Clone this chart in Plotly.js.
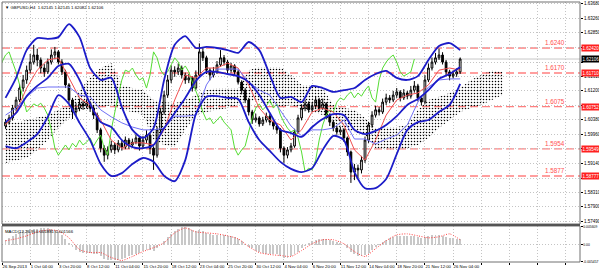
<!DOCTYPE html>
<html><head><meta charset="utf-8">
<script src="https://cdn.plot.ly/plotly-3.0.1.min.js"></script>
<style>html,body{margin:0;padding:0;background:#fff;}#chart{width:599px;height:272px;}</style>
</head><body><div id="chart"></div>
<script>
// ---- candle data (each candle = 2 H4 bars) ----
const candleOpen=[1.6020,1.6031,1.6043,1.6071,1.6094,1.6128,1.6151,1.6179,1.6202,1.6222,
1.6208,1.6185,1.6174,1.6202,1.6222,1.6231,1.6202,1.6174,1.6137,1.6094,
1.6060,1.6071,1.6083,1.6077,1.6085,1.6071,1.6051,1.6009,1.5957,1.5937,
1.5952,1.5966,1.5952,1.5971,1.5960,1.5980,1.5966,1.5974,1.5986,1.5963,
1.5980,1.5994,1.5957,1.5937,1.6009,1.6060,1.6108,1.6151,1.6179,1.6174,
1.6185,1.6165,1.6151,1.6157,1.6128,1.6165,1.6231,1.6214,1.6179,1.6165,
1.6174,1.6194,1.6214,1.6202,1.6179,1.6191,1.6174,1.6145,1.6122,1.6094,
1.6060,1.6037,1.6043,1.6026,1.6037,1.6048,1.6031,1.6020,1.6009,1.5957,
1.5937,1.5952,1.5963,1.6003,1.6043,1.6071,1.6083,1.6066,1.6077,1.6094,
1.6071,1.6083,1.6051,1.6031,1.6014,1.6003,1.6009,1.5986,1.5946,1.5889,
1.5900,1.5895,1.5923,1.5980,1.6023,1.6051,1.6066,1.6060,1.6088,1.6100,
1.6094,1.6108,1.6117,1.6100,1.6114,1.6105,1.6122,1.6134,1.6100,1.6088,
1.6151,1.6185,1.6202,1.6214,1.6222,1.6202,1.6174,1.6162,1.6168,1.6174];
const candleHigh=[1.6040,1.6052,1.6080,1.6103,1.6140,1.6165,1.6192,1.6225,1.6251,1.6240,
1.6215,1.6196,1.6212,1.6238,1.6245,1.6236,1.6210,1.6180,1.6142,1.6100,
1.6085,1.6098,1.6092,1.6096,1.6090,1.6078,1.6058,1.6015,1.5965,1.5962,
1.5978,1.5972,1.5980,1.5978,1.5990,1.5986,1.5984,1.5996,1.5990,1.5992,
1.6008,1.6000,1.5962,1.6018,1.6072,1.6120,1.6165,1.6192,1.6190,1.6198,
1.6192,1.6172,1.6168,1.6162,1.6178,1.6255,1.6245,1.6220,1.6185,1.6188,
1.6205,1.6236,1.6222,1.6208,1.6200,1.6196,1.6180,1.6150,1.6128,1.6100,
1.6066,1.6055,1.6048,1.6046,1.6058,1.6054,1.6036,1.6025,1.6014,1.5962,
1.5960,1.5972,1.6012,1.6052,1.6082,1.6095,1.6090,1.6088,1.6105,1.6100,
1.6098,1.6088,1.6056,1.6036,1.6020,1.6018,1.6014,1.5990,1.5950,1.5912,
1.5910,1.5935,1.5990,1.6032,1.6062,1.6078,1.6074,1.6098,1.6112,1.6108,
1.6120,1.6128,1.6122,1.6125,1.6120,1.6134,1.6148,1.6140,1.6105,1.6165,
1.6198,1.6215,1.6228,1.6240,1.6230,1.6208,1.6180,1.6178,1.6184,1.6215];
const candleLow=[1.6012,1.6024,1.6035,1.6062,1.6088,1.6118,1.6140,1.6170,1.6195,1.6190,
1.6170,1.6160,1.6168,1.6195,1.6210,1.6195,1.6165,1.6128,1.6085,1.6040,
1.6048,1.6062,1.6066,1.6070,1.6060,1.6040,1.6000,1.5945,1.5918,1.5925,
1.5944,1.5940,1.5945,1.5950,1.5954,1.5955,1.5958,1.5968,1.5950,1.5955,
1.5972,1.5940,1.5895,1.5930,1.6000,1.6052,1.6100,1.6142,1.6160,1.6165,
1.6155,1.6140,1.6142,1.6118,1.6122,1.6160,1.6205,1.6168,1.6150,1.6158,
1.6168,1.6188,1.6192,1.6170,1.6172,1.6165,1.6138,1.6110,1.6085,1.6050,
1.6026,1.6030,1.6018,1.6020,1.6030,1.6022,1.6010,1.5998,1.5945,1.5915,
1.5928,1.5945,1.5958,1.5998,1.6036,1.6062,1.6058,1.6060,1.6070,1.6062,
1.6066,1.6040,1.6020,1.6005,1.5995,1.5994,1.5975,1.5935,1.5858,1.5866,
1.5872,1.5885,1.5915,1.5972,1.6015,1.6044,1.6050,1.6054,1.6080,1.6085,
1.6088,1.6100,1.6090,1.6094,1.6096,1.6098,1.6115,1.6090,1.6078,1.6082,
1.6145,1.6178,1.6195,1.6208,1.6195,1.6165,1.6150,1.6155,1.6160,1.6168];
const candleClose=[1.6031,1.6043,1.6071,1.6094,1.6128,1.6151,1.6179,1.6202,1.6222,1.6208,
1.6185,1.6174,1.6202,1.6222,1.6231,1.6202,1.6174,1.6137,1.6094,1.6060,
1.6071,1.6083,1.6077,1.6085,1.6071,1.6051,1.6009,1.5957,1.5937,1.5952,
1.5966,1.5952,1.5971,1.5960,1.5980,1.5966,1.5974,1.5986,1.5963,1.5980,
1.5994,1.5957,1.5937,1.6009,1.6060,1.6108,1.6151,1.6179,1.6174,1.6185,
1.6165,1.6151,1.6157,1.6128,1.6165,1.6231,1.6214,1.6179,1.6165,1.6174,
1.6194,1.6214,1.6202,1.6179,1.6191,1.6174,1.6145,1.6122,1.6094,1.6060,
1.6037,1.6043,1.6026,1.6037,1.6048,1.6031,1.6020,1.6009,1.5957,1.5937,
1.5952,1.5963,1.6003,1.6043,1.6071,1.6083,1.6066,1.6077,1.6094,1.6071,
1.6083,1.6051,1.6031,1.6014,1.6003,1.6009,1.5986,1.5946,1.5889,1.5900,
1.5895,1.5923,1.5980,1.6023,1.6051,1.6066,1.6060,1.6088,1.6100,1.6094,
1.6108,1.6117,1.6100,1.6114,1.6105,1.6122,1.6134,1.6100,1.6088,1.6151,
1.6185,1.6202,1.6214,1.6222,1.6202,1.6174,1.6162,1.6168,1.6174,1.62106];

// ---- indicator samples (every 3 candles) ----
const upperBand=[1.6100,1.6157,1.6236,1.6270,1.6268,1.6273,1.6310,1.6273,1.6185,1.6151,1.6157,1.6074,1.6009,1.5986,1.6014,1.6151,1.6251,1.6276,1.6242,1.6245,1.6242,1.6236,1.6228,1.6259,1.6236,1.6165,1.6100,1.6103,1.6088,1.6134,1.6128,1.6117,1.6122,1.6128,1.6151,1.6168,1.6177,1.6157,1.6151,1.6162,1.6208,1.6248,1.6256,1.6236];
const middleBand=[1.6031,1.6057,1.6105,1.6134,1.6157,1.6191,1.6197,1.6151,1.6083,1.6031,1.6017,1.5980,1.5960,1.5957,1.5966,1.6014,1.6057,1.6100,1.6148,1.6174,1.6174,1.6168,1.6162,1.6145,1.6108,1.6057,1.6009,1.6000,1.5989,1.6017,1.6040,1.6054,1.6051,1.6009,1.5997,1.6006,1.6023,1.6048,1.6080,1.6097,1.6122,1.6154,1.6168,1.6188];
const lowerBand=[1.5963,1.5957,1.5974,1.5997,1.6046,1.6108,1.6083,1.6029,1.5980,1.5912,1.5878,1.5886,1.5912,1.5929,1.5918,1.5878,1.5863,1.5923,1.6054,1.6103,1.6105,1.6100,1.6097,1.6031,1.5980,1.5949,1.5918,1.5898,1.5889,1.5900,1.5952,1.5992,1.5980,1.5889,1.5843,1.5843,1.5869,1.5940,1.6009,1.6031,1.6037,1.6060,1.6080,1.6140];
const tenkanSen=[1.6023,1.6060,1.6128,1.6179,1.6208,1.6214,1.6157,1.6100,1.6080,1.6037,1.5980,1.5957,1.5972,1.5972,1.5966,1.6009,1.6094,1.6165,1.6157,1.6185,1.6185,1.6199,1.6185,1.6137,1.6071,1.6037,1.6023,1.5980,1.6009,1.6060,1.6071,1.6060,1.6023,1.5952,1.5923,1.5980,1.6051,1.6094,1.6108,1.6114,1.6137,1.6179,1.6185,1.6179];
const kijunSen=[1.6051,1.6071,1.6103,1.6128,1.6131,1.6131,1.6131,1.6108,1.6103,1.6066,1.6046,1.6029,1.6017,1.6009,1.6009,1.6014,1.6048,1.6048,1.6051,1.6137,1.6182,1.6182,1.6182,1.6145,1.6122,1.6108,1.6063,1.6020,1.5992,1.6009,1.6009,1.6014,1.6037,1.5983,1.5983,1.5969,1.5983,1.5994,1.6023,1.6088,1.6131,1.6151,1.6154,1.6154];
const cloudTop=[1.6029,1.6031,1.6037,1.6043,1.6051,1.6066,1.6080,1.6122,1.6157,1.6185,1.6199,1.6137,1.6128,1.6122,1.6094,1.6088,1.6085,1.6094,1.6108,1.6122,1.6128,1.6128,1.6128,1.6179,1.6188,1.6188,1.6188,1.6165,1.6137,1.6137,1.6128,1.6080,1.6071,1.6066,1.6043,1.6014,1.6017,1.6017,1.6023,1.6066,1.6094,1.6103,1.6114,1.6128,1.6151,1.6165,1.6179,1.6174];
const cloudBottom=[1.5915,1.5923,1.5929,1.5952,1.5980,1.6014,1.6043,1.6066,1.6066,1.6071,1.6080,1.6066,1.6060,1.6051,1.5980,1.5966,1.5960,1.6009,1.6051,1.6060,1.6066,1.6071,1.6080,1.6094,1.6088,1.6080,1.6074,1.6080,1.6066,1.6060,1.6051,1.6023,1.6009,1.6003,1.5994,1.5957,1.5952,1.5952,1.5957,1.5966,1.5986,1.6014,1.6037,1.6060,1.6071,1.6080,1.6094,1.6108];
const macdHist=[0.0016,0.0022,0.0028,0.0034,0.0041,0.0044,0.0047,0.0050,0.0050,0.0050,
0.0053,0.0053,0.0053,0.0050,0.0047,0.0041,0.0031,0.0019,0.0006,-0.0006,
-0.0016,-0.0022,-0.0025,-0.0025,-0.0025,-0.0028,-0.0031,-0.0037,-0.0044,-0.0047,
-0.0050,-0.0050,-0.0047,-0.0044,-0.0041,-0.0037,-0.0034,-0.0028,-0.0025,-0.0019,
-0.0016,-0.0016,-0.0019,-0.0009,0.0000,0.0012,0.0025,0.0034,0.0044,0.0050,
0.0056,0.0056,0.0053,0.0047,0.0044,0.0047,0.0044,0.0037,0.0034,0.0031,
0.0031,0.0031,0.0031,0.0028,0.0028,0.0025,0.0019,0.0012,0.0003,-0.0006,
-0.0012,-0.0019,-0.0022,-0.0025,-0.0028,-0.0028,-0.0031,-0.0031,-0.0037,-0.0041,
-0.0041,-0.0037,-0.0031,-0.0022,-0.0012,-0.0003,0.0006,0.0012,0.0016,0.0019,
0.0019,0.0019,0.0016,0.0012,0.0009,0.0006,0.0000,-0.0009,-0.0022,-0.0031,
-0.0037,-0.0037,-0.0034,-0.0025,-0.0016,-0.0006,0.0003,0.0009,0.0016,0.0022,
0.0025,0.0028,0.0028,0.0028,0.0028,0.0028,0.0028,0.0025,0.0022,0.0025,
0.0028,0.0031,0.0031,0.0031,0.0028,0.0025,0.0022,0.0022,0.0019,0.001881];
const macdSignal=[0.00125,0.00187,0.00281,0.00406,0.00468,0.00437,0.00218,-0.00156,-0.00250,-0.00250,-0.00406,-0.00499,-0.00374,-0.00218,-0.00094,0.00062,0.00374,0.00530,0.00406,0.00374,0.00343,0.00281,0.00187,-0.00062,-0.00250,-0.00312,-0.00343,-0.00374,-0.00187,0.00031,0.00156,0.00156,0.00031,-0.00218,-0.00374,-0.00125,0.00125,0.00312,0.00343,0.00281,0.00218,0.00250,0.00343,0.001566];

// ---- labels ----
const xTickLabels=['26 Sep 2013','1 Oct 04:00','3 Oct 20:00','8 Oct 12:00','11 Oct 04:00','15 Oct 20:00','18 Oct 12:00','23 Oct 04:00','25 Oct 20:00','30 Oct 12:00','4 Nov 04:00','6 Nov 20:00','11 Nov 12:00','14 Nov 04:00','18 Nov 20:00','21 Nov 12:00','26 Nov 04:00','','','',''];
const yTickVals=[1.63680,1.63260,1.62850,1.62430,1.62020,1.61610,1.61200,1.60790,1.60380,1.59960,1.59550,1.59140,1.58720,1.58310,1.57900,1.57490];
const yTickText=['1.63680','1.63260','1.62850','','','1.61610','1.61200','','1.60380','1.59960','','1.59140','','1.58310','1.57900','1.57490'];
const macdTickVals=[0.005609,0,-0.005457];
const macdTickText=['0.005609','0.00','-0.005457'];
const levelPrices=[1.62420,1.61710,1.60752,1.59549,1.58777];
const levelNames=['1.6240','1.6170','1.6075','1.5954','1.5877'];
const levelAxisText=['1.62420','1.61710','1.60752','1.59549','1.58777'];
const bidPrice=1.62106;
const bidText='1.62106';
const headerText='\u25BC GBPUSD,H4  1.62145 1.62145 1.62082 1.62106';
const macdText='MACD(12,26,9) 0.001881 0.001566';

// ---- geometry (H4 bar index) ----
const BARS_PER_CANDLE=2, FIRST_BAR=2, BARS_PER_SAMPLE=6, CHIKOU_SHIFT=26, LABEL_STEP=16;
const candleX=candleClose.map((_,i)=>FIRST_BAR+BARS_PER_CANDLE*i);
const lineX=upperBand.map((_,j)=>FIRST_BAR+BARS_PER_SAMPLE*j);
const cloudX=cloudTop.map((_,j)=>FIRST_BAR+BARS_PER_SAMPLE*j);
const chikouX=candleX.map(v=>v-CHIKOU_SHIFT);
const xTickVals=xTickLabels.map((_,i)=>LABEL_STEP*i);

const FONT='Liberation Sans, Arial, sans-serif';
const GRID='#c4c4c4';

const traces=[
 {type:'scatter',x:cloudX,y:cloudTop,mode:'lines',line:{width:0,color:'rgba(0,0,0,0)'},hoverinfo:'skip',yaxis:'y'},
 {type:'scatter',x:cloudX,y:cloudBottom,mode:'lines',line:{width:0,color:'rgba(0,0,0,0)'},fill:'tonexty',fillcolor:'rgba(0,0,0,0)',
  fillpattern:{shape:'.',fgcolor:'#000000',bgcolor:'rgba(255,255,255,0)',size:3,solidity:0.2,fillmode:'replace'},hoverinfo:'skip',yaxis:'y'},
 {type:'candlestick',x:candleX,open:candleOpen,high:candleHigh,low:candleLow,close:candleClose,
  increasing:{line:{color:'#000',width:1},fillcolor:'#ffffff'},decreasing:{line:{color:'#000',width:1},fillcolor:'#000000'},
  whiskerwidth:0,hoverinfo:'skip',yaxis:'y'},
 {type:'scatter',x:chikouX,y:candleClose,mode:'lines',line:{color:'#55dd33',width:1},hoverinfo:'skip',yaxis:'y'},
 {type:'scatter',x:lineX,y:tenkanSen,mode:'lines',line:{color:'#f05050',width:1},hoverinfo:'skip',yaxis:'y'},
 {type:'scatter',x:lineX,y:kijunSen,mode:'lines',line:{color:'#6f6ff5',width:1},hoverinfo:'skip',yaxis:'y'},
 {type:'scatter',x:lineX,y:upperBand,mode:'lines',line:{color:'#1c1cc8',width:1.8,shape:'spline',smoothing:0.7},hoverinfo:'skip',yaxis:'y'},
 {type:'scatter',x:lineX,y:middleBand,mode:'lines',line:{color:'#1c1cc8',width:1.8,shape:'spline',smoothing:0.7},hoverinfo:'skip',yaxis:'y'},
 {type:'scatter',x:lineX,y:lowerBand,mode:'lines',line:{color:'#1c1cc8',width:1.8,shape:'spline',smoothing:0.7},hoverinfo:'skip',yaxis:'y'},
 {type:'bar',x:candleX,y:macdHist,width:1.1,marker:{color:'#c8c8c8',line:{width:0}},hoverinfo:'skip',yaxis:'y2'},
 {type:'scatter',x:lineX,y:macdSignal,mode:'lines',line:{color:'#ff4040',width:1,dash:'1px,1.5px',shape:'spline',smoothing:0.6},hoverinfo:'skip',yaxis:'y2'}
];

const MAIN_DOM=[0.14615,1], MACD_DOM=[0,0.13846];
const shapes=[];
levelPrices.forEach(p=>shapes.push({type:'line',xref:'paper',x0:0,x1:1,yref:'y',y0:p,y1:p,line:{color:'#ff8080',width:1.4,dash:'8px,4px'},layer:'below'}));
shapes.push({type:'line',xref:'paper',x0:0,x1:1,yref:'y',y0:bidPrice,y1:bidPrice,line:{color:'#c8c8c8',width:1},layer:'below'});
shapes.push({type:'rect',xref:'paper',yref:'paper',x0:0,x1:1,y0:MAIN_DOM[0],y1:MAIN_DOM[1],line:{color:'#707070',width:1}});
shapes.push({type:'rect',xref:'paper',yref:'paper',x0:0,x1:1,y0:MACD_DOM[0],y1:MACD_DOM[1],line:{color:'#707070',width:1}});
shapes.push({type:'line',xref:'paper',yref:'paper',x0:0,x1:1,y0:0.1423,y1:0.1423,line:{color:'#555555',width:2}});

const annotations=[];
levelPrices.forEach((p,i)=>{
 annotations.push({xref:'paper',x:0.9775,xanchor:'right',yref:'y',y:p,yanchor:'bottom',yshift:0,text:levelNames[i],showarrow:false,font:{family:FONT,size:6.3,color:'#ff5050'}});
 annotations.push({xref:'paper',x:1,xanchor:'left',xshift:1,yref:'y',y:p,yanchor:'middle',text:levelAxisText[i],showarrow:false,bgcolor:'#ff2020',borderpad:0.5,font:{family:FONT,size:4.5,color:'#ffffff'}});
});
annotations.push({xref:'paper',x:1,xanchor:'left',xshift:1,yref:'y',y:bidPrice,yanchor:'middle',text:bidText,showarrow:false,bgcolor:'#000000',borderpad:0.5,font:{family:FONT,size:4.5,color:'#ffffff'}});
annotations.push({xref:'paper',x:0,xanchor:'left',xshift:1,yref:'paper',y:1,yanchor:'top',yshift:-1,text:headerText,showarrow:false,font:{family:FONT,size:4.3,color:'#000'}});
annotations.push({xref:'paper',x:0,xanchor:'left',xshift:1,yref:'paper',y:MACD_DOM[1],yanchor:'top',yshift:-1,text:macdText,showarrow:false,font:{family:FONT,size:4.3,color:'#000'}});

const layout={
 width:599,height:272,margin:{l:2,r:19,t:2,b:10,pad:0},
 paper_bgcolor:'#ffffff',plot_bgcolor:'#ffffff',showlegend:false,
 font:{family:FONT,size:4.5,color:'#000'},
 xaxis:{range:[0,328],anchor:'y2',tickmode:'array',tickvals:xTickVals,ticktext:xTickLabels,tickangle:0,
  ticks:'outside',ticklen:1.5,tickcolor:'#000',tickfont:{family:FONT,size:4.3,color:'#000'},ticklabelposition:'outside right',
  showgrid:true,gridcolor:GRID,griddash:'1px,2px',gridwidth:1,zeroline:false,showline:false,rangeslider:{visible:false},fixedrange:true},
 yaxis:{domain:MAIN_DOM,range:[1.57411,1.63729],side:'right',anchor:'x',tickmode:'array',tickvals:yTickVals,ticktext:yTickText,
  ticks:'outside',ticklen:2,tickcolor:'#000',tickfont:{family:FONT,size:4.5,color:'#000'},
  showgrid:true,gridcolor:GRID,griddash:'1px,2px',gridwidth:1,zeroline:false,showline:false,fixedrange:true},
 yaxis2:{domain:MACD_DOM,range:[-0.00548,0.00592],side:'right',anchor:'x',tickmode:'array',tickvals:macdTickVals,ticktext:macdTickText,
  ticks:'outside',ticklen:1.5,tickcolor:'#000',tickfont:{family:FONT,size:3.4,color:'#000'},
  showgrid:true,gridcolor:GRID,griddash:'1px,2px',gridwidth:1,zeroline:false,showline:false,fixedrange:true},
 shapes:shapes,annotations:annotations,bargap:0
};
Plotly.newPlot('chart',traces,layout,{staticPlot:true,displayModeBar:false});
</script></body></html>
